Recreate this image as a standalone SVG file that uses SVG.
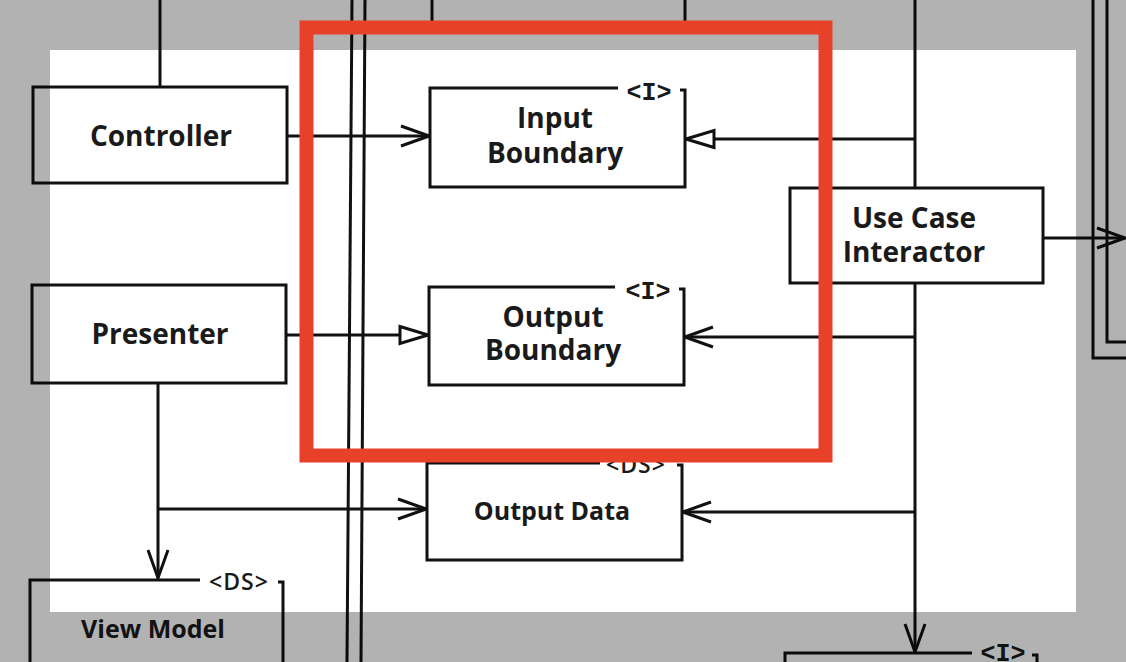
<svg xmlns="http://www.w3.org/2000/svg" width="1126" height="662" viewBox="0 0 1126 662">
<style>
.bx{fill:#fff;stroke:none}
.bd{fill:none;stroke:#111;stroke-width:3;stroke-linejoin:miter}
.t{font-family:"Open Sans","Noto Sans",sans-serif;font-weight:700;fill:#1a1a1a;text-anchor:middle}
.t30{font-size:28px}
.t27{font-size:25px}
.st{font-family:"Liberation Mono","DejaVu Sans Mono",monospace;font-weight:bold;font-size:25px;fill:#1a1a1a;text-anchor:middle}
.ds{font-family:"Open Sans","Noto Sans",sans-serif;font-weight:600;font-size:23px;fill:#1a1a1a;text-anchor:middle;letter-spacing:1px}
.ln{fill:none;stroke:#111;stroke-width:3}
</style>
<defs>
<marker id="open" markerUnits="userSpaceOnUse" markerWidth="32" markerHeight="26" viewBox="0 0 32 26" refX="30" refY="13" orient="auto">
<path d="M2,3 L30,13 L2,23" fill="none" stroke="#111" stroke-width="3"/>
</marker>
<marker id="tri" markerUnits="userSpaceOnUse" markerWidth="34" markerHeight="24" viewBox="0 0 34 24" refX="31" refY="12" orient="auto">
<path d="M3,3.5 L31,12 L3,20.5 Z" fill="#fff" stroke="#111" stroke-width="3"/>
</marker>
</defs>
<rect x="0" y="0" width="1126" height="662" fill="#fff"/>

<g id="connectors">
<path class="ln" d="M352,0 L347,662"/>
<path class="ln" d="M365,0 L361,662"/>
<path class="ln" d="M1093,0 L1093,358 L1126,358"/>
<path class="ln" d="M1107,0 L1107,342 L1126,342"/>
<path class="ln" d="M432,0 L432,27"/>
<path class="ln" d="M685,0 L685,27"/>
<path class="ln" d="M160,0 L160,87"/>
<path class="ln" d="M287,136 L429,136" marker-end="url(#open)"/>
<path class="ln" d="M915,0 L915,188"/>
<path class="ln" d="M915,139 L686,139" marker-end="url(#tri)"/>
<path class="ln" d="M1043,238 L1125,238" marker-end="url(#open)"/>
<path class="ln" d="M915,283 L915,652" marker-end="url(#open)"/>
<path class="ln" d="M915,337 L685,337" marker-end="url(#open)"/>
<path class="ln" d="M915,512 L683,512" marker-end="url(#open)"/>
<path class="ln" d="M286,335 L428,335" marker-end="url(#tri)"/>
<path class="ln" d="M158,383 L158,578" marker-end="url(#open)"/>
<path class="ln" d="M158,509 L426,509" marker-end="url(#open)"/>
</g>

<g id="controller">
<rect class="bx" x="33" y="87" width="254" height="96"/>
<rect class="bd" x="33" y="87" width="254" height="96"/>
<text class="t t30" x="161" y="146">Controller</text>
</g>

<g id="presenter">
<rect class="bx" x="32" y="285" width="254" height="98"/>
<rect class="bd" x="32" y="285" width="254" height="98"/>
<text class="t t30" x="160" y="344">Presenter</text>
</g>

<g id="input-boundary">
<rect class="bx" x="430" y="88" width="255" height="99"/>
<path class="bd" d="M618,88 L430,88 L430,187 L685,187 L685,90 L680,90"/>
<text class="st" x="649" y="100">&lt;I&gt;</text>
<text class="t t30" x="555" y="128">Input</text>
<text class="t t30" x="555" y="163">Boundary</text>
</g>

<g id="output-boundary">
<rect class="bx" x="429" y="287" width="255" height="98"/>
<path class="bd" d="M615,287 L429,287 L429,385 L684,385 L684,289 L679,289"/>
<text class="st" x="648" y="299">&lt;I&gt;</text>
<text class="t t30" x="553" y="327">Output</text>
<text class="t t30" x="553" y="360">Boundary</text>
</g>

<g id="output-data">
<rect class="bx" x="427" y="463" width="255" height="97"/>
<path class="bd" d="M600,463 L427,463 L427,560 L682,560 L682,465 L677,465"/>
<text class="ds" x="636" y="473">&lt;DS&gt;</text>
<text class="t t27" x="552" y="520">Output Data</text>
</g>

<g id="view-model">
<rect class="bx" x="30" y="580" width="253" height="100"/>
<path class="bd" d="M200,580 L30,580 L30,680 M283,680 L283,582 L278,582"/>
<text class="ds" x="239" y="590">&lt;DS&gt;</text>
<text class="t t27" x="153" y="638">View Model</text>
</g>

<g id="use-case-interactor">
<rect class="bx" x="790" y="188" width="253" height="95"/>
<rect class="bd" x="790" y="188" width="253" height="95"/>
<text class="t t30" x="914" y="228">Use Case</text>
<text class="t t30" x="914" y="262">Interactor</text>
</g>

<g id="lower-interface">
<rect class="bx" x="785" y="653" width="252" height="40"/>
<path class="bd" d="M972,653 L785,653 L785,700 M1037,700 L1037,655 L1032,655"/>
<text class="st" x="1003" y="661">&lt;I&gt;</text>
</g>

<path id="shade" d="M0,0 H1126 V662 H0 Z M50,50 V612 H1076 V50 Z" fill="#000" fill-opacity="0.3" fill-rule="evenodd"/>
<rect id="highlight" x="306.5" y="27.5" width="519" height="428" fill="none" stroke="#E8412A" stroke-width="14"/>
</svg>
